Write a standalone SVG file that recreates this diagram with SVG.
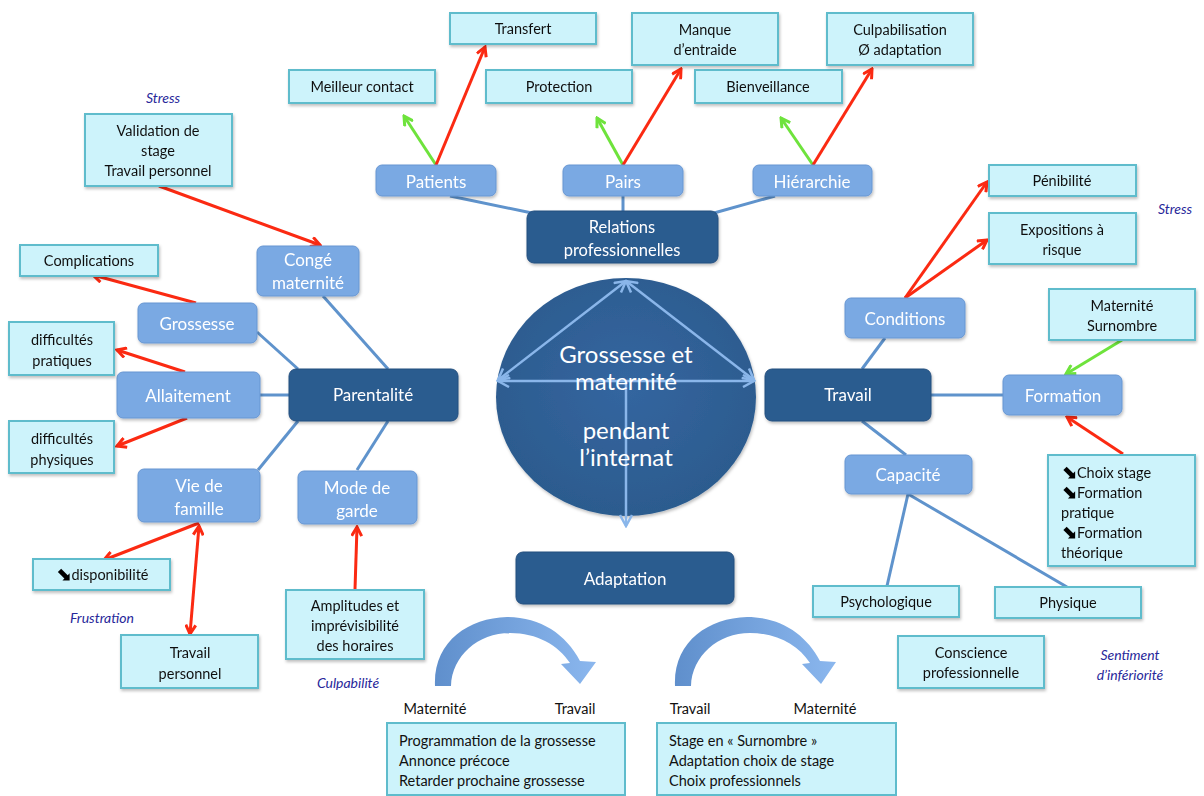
<svg xmlns="http://www.w3.org/2000/svg" width="1204" height="796" viewBox="0 0 1204 796">
  <defs>
    <style>
      .dark { fill: #2c5b8f; stroke: #24507f; stroke-width: 1; }
      .mid { fill: #7aa9e3; stroke: #6796d2; stroke-width: 1; }
      .light { fill: #cdf3fb; stroke: #5fbccc; stroke-width: 2; }
      .tw { font-family: Lato, "Open Sans", sans-serif; fill: #ffffff; text-anchor: middle; }
      .tb { font-family: Lato, "Open Sans", sans-serif; fill: #111111; text-anchor: middle; font-size: 14.5px; }
      .tl { font-family: Lato, "Open Sans", sans-serif; fill: #111111; font-size: 14.5px; }
      .it { font-family: Lato, "Open Sans", sans-serif; fill: #27279a; font-style: italic; font-size: 14px; text-anchor: middle; }
      .ar { font-family: "DejaVu Sans", sans-serif; font-weight: bold; font-size: 19px; fill: #000000; }
      .red { stroke: #fb2a12; stroke-width: 3; fill: none; }
      .green { stroke: #6ee33c; stroke-width: 3; fill: none; }
      .blue { stroke: #5f93cc; stroke-width: 3; fill: none; }
      .inner { stroke: #8ab6ea; stroke-width: 2.5; fill: none; }
    </style>
    <marker id="mRed" viewBox="0 0 12 12" refX="10" refY="6" markerWidth="12" markerHeight="12" markerUnits="userSpaceOnUse" orient="auto-start-reverse">
      <path d="M1 1 L10 6 L1 11" fill="none" stroke="#fb2a12" stroke-width="3" stroke-linejoin="miter"/>
    </marker>
    <marker id="mGreen" viewBox="0 0 12 12" refX="10" refY="6" markerWidth="12" markerHeight="12" markerUnits="userSpaceOnUse" orient="auto-start-reverse">
      <path d="M1 1 L10 6 L1 11" fill="none" stroke="#6ee33c" stroke-width="3"/>
    </marker>
    <marker id="mInner" viewBox="0 0 14 14" refX="12" refY="7" markerWidth="14" markerHeight="14" markerUnits="userSpaceOnUse" orient="auto-start-reverse">
      <path d="M1 1 L12 7 L1 13" fill="none" stroke="#8ab6ea" stroke-width="2.5"/>
    </marker>
    <radialGradient id="gCircle" cx="50%" cy="45%" r="55%">
      <stop offset="0%" stop-color="#3466a0"/>
      <stop offset="100%" stop-color="#2c5b8e"/>
    </radialGradient>
    <linearGradient id="gCurve" x1="0" y1="0" x2="1" y2="0">
      <stop offset="0%" stop-color="#5f8fcc"/>
      <stop offset="100%" stop-color="#8bb7ee"/>
    </linearGradient>
    <filter id="sh" x="-10%" y="-10%" width="125%" height="135%">
      <feDropShadow dx="1" dy="2" stdDeviation="1.5" flood-color="#000" flood-opacity="0.25"/>
    </filter>
  </defs>

  <rect width="1204" height="796" fill="#ffffff"/>

  <!-- connectors -->
  <g id="connectors">
    <!-- hierarchy links -->
    <path class="blue" d="M450 196 L532 213"/>
    <path class="blue" d="M623 196 L623 212"/>
    <path class="blue" d="M775 196 L714 213"/>
    <path class="blue" d="M323 296 L388 369"/>
    <path class="blue" d="M257 332 L298 369"/>
    <path class="blue" d="M260 395 L290 395"/>
    <path class="blue" d="M258 470 L298 421"/>
    <path class="blue" d="M357 470 L388 421"/>
    <path class="blue" d="M885 338 L862 369"/>
    <path class="blue" d="M931 395 L1003 395"/>
    <path class="blue" d="M862 421 L906 455"/>
    <path class="blue" d="M908 494 L887 586"/>
    <path class="blue" d="M908 494 L1067 587"/>

    <!-- relations -->
    <path class="green" d="M436 165 L404 116" marker-end="url(#mGreen)"/>
    <path class="red" d="M436 165 L485 47" marker-end="url(#mRed)"/>
    <path class="green" d="M623 165 L597 118" marker-end="url(#mGreen)"/>
    <path class="red" d="M623 165 L681 69" marker-end="url(#mRed)"/>
    <path class="green" d="M813 165 L781 118" marker-end="url(#mGreen)"/>
    <path class="red" d="M813 165 L872 69" marker-end="url(#mRed)"/>

    <!-- parentalité -->
    <path class="red" d="M159 186 L320 245" marker-end="url(#mRed)"/>
    <path class="red" d="M196 303 L93 275" marker-end="url(#mRed)"/>
    <path class="red" d="M185 372 L117 350" marker-end="url(#mRed)"/>
    <path class="red" d="M187 418 L117 446" marker-end="url(#mRed)"/>
    <path class="red" d="M199 523 L104 560" marker-end="url(#mRed)"/>
    <path class="red" d="M199 526 L190 634" marker-start="url(#mRed)" marker-end="url(#mRed)"/>
    <path class="red" d="M355 589 L357 527" marker-end="url(#mRed)"/>

    <!-- travail -->
    <path class="red" d="M905 298 L987 182" marker-end="url(#mRed)"/>
    <path class="red" d="M905 298 L987 240" marker-end="url(#mRed)"/>
    <path class="green" d="M1122 340 L1066 374" marker-end="url(#mGreen)"/>
    <path class="red" d="M1123 454 L1067 417" marker-end="url(#mRed)"/>
  </g>

  <!-- central theme -->
  <g id="centre">
    <ellipse cx="626" cy="397" rx="130" ry="119" fill="url(#gCircle)" filter="url(#sh)"/>
    <path class="inner" d="M626 281 L498 380" marker-start="url(#mInner)" marker-end="url(#mInner)"/>
    <path class="inner" d="M626 281 L754 380" marker-start="url(#mInner)" marker-end="url(#mInner)"/>
    <path class="inner" d="M498 381 L754 381" marker-start="url(#mInner)" marker-end="url(#mInner)"/>
    <path class="inner" d="M626 381 L626 526" marker-end="url(#mInner)"/>
    <text class="tw" x="626" y="363" font-size="24">Grossesse et</text>
    <text class="tw" x="626" y="390" font-size="24">maternité</text>
    <text class="tw" x="626" y="439" font-size="24">pendant</text>
    <text class="tw" x="626" y="466" font-size="24">l’internat</text>
  </g>

  <!-- main branches -->
  <g id="relations" filter="url(#sh)">
    <rect class="dark" x="527" y="211" width="191" height="52" rx="7"/>
    <text class="tw" x="622" y="233" font-size="16.5">Relations</text>
    <text class="tw" x="622" y="256" font-size="16.5">professionnelles</text>
  </g>
  <g id="parentalite" filter="url(#sh)">
    <rect class="dark" x="289" y="369" width="169" height="52" rx="7"/>
    <text class="tw" x="373" y="401" font-size="17">Parentalité</text>
  </g>
  <g id="travail" filter="url(#sh)">
    <rect class="dark" x="765" y="369" width="166" height="52" rx="7"/>
    <text class="tw" x="848" y="401" font-size="17">Travail</text>
  </g>
  <g id="adaptation" filter="url(#sh)">
    <rect class="dark" x="516" y="552" width="218" height="52" rx="7"/>
    <text class="tw" x="625" y="585" font-size="17">Adaptation</text>
  </g>

  <!-- sub-branches -->
  <g id="patients" filter="url(#sh)">
    <rect class="mid" x="376" y="165" width="120" height="31" rx="6"/>
    <text class="tw" x="436" y="188" font-size="17">Patients</text>
  </g>
  <g id="pairs" filter="url(#sh)">
    <rect class="mid" x="563" y="165" width="120" height="31" rx="6"/>
    <text class="tw" x="623" y="188" font-size="17">Pairs</text>
  </g>
  <g id="hierarchie" filter="url(#sh)">
    <rect class="mid" x="753" y="165" width="119" height="31" rx="6"/>
    <text class="tw" x="812" y="188" font-size="17">Hiérarchie</text>
  </g>
  <g id="conge" filter="url(#sh)">
    <rect class="mid" x="257" y="246" width="102" height="50" rx="6"/>
    <text class="tw" x="308" y="266" font-size="17">Congé</text>
    <text class="tw" x="308" y="289" font-size="17">maternité</text>
  </g>
  <g id="grossesse" filter="url(#sh)">
    <rect class="mid" x="138" y="303" width="119" height="40" rx="6"/>
    <text class="tw" x="197" y="330" font-size="17">Grossesse</text>
  </g>
  <g id="allaitement" filter="url(#sh)">
    <rect class="mid" x="117" y="372" width="143" height="46" rx="6"/>
    <text class="tw" x="188" y="402" font-size="17">Allaitement</text>
  </g>
  <g id="vie-famille" filter="url(#sh)">
    <rect class="mid" x="138" y="469" width="122" height="53" rx="6"/>
    <text class="tw" x="199" y="492" font-size="17">Vie de</text>
    <text class="tw" x="199" y="515" font-size="17">famille</text>
  </g>
  <g id="mode-garde" filter="url(#sh)">
    <rect class="mid" x="298" y="471" width="119" height="53" rx="6"/>
    <text class="tw" x="357" y="494" font-size="17">Mode de</text>
    <text class="tw" x="357" y="517" font-size="17">garde</text>
  </g>
  <g id="conditions" filter="url(#sh)">
    <rect class="mid" x="845" y="298" width="120" height="40" rx="6"/>
    <text class="tw" x="905" y="325" font-size="17">Conditions</text>
  </g>
  <g id="formation" filter="url(#sh)">
    <rect class="mid" x="1003" y="375" width="119" height="40" rx="6"/>
    <text class="tw" x="1063" y="402" font-size="17">Formation</text>
  </g>
  <g id="capacite" filter="url(#sh)">
    <rect class="mid" x="845" y="455" width="127" height="39" rx="6"/>
    <text class="tw" x="908" y="481" font-size="17">Capacité</text>
  </g>

  <!-- details -->
  <g id="transfert" filter="url(#sh)">
    <rect class="light" x="450" y="13" width="146" height="31"/>
    <text class="tb" x="523" y="34">Transfert</text>
  </g>
  <g id="meilleur-contact" filter="url(#sh)">
    <rect class="light" x="289" y="70" width="146" height="33"/>
    <text class="tb" x="362" y="92">Meilleur contact</text>
  </g>
  <g id="protection" filter="url(#sh)">
    <rect class="light" x="486" y="70" width="146" height="33"/>
    <text class="tb" x="559" y="92">Protection</text>
  </g>
  <g id="manque-entraide" filter="url(#sh)">
    <rect class="light" x="632" y="13" width="146" height="52"/>
    <text class="tb" x="705" y="35">Manque</text>
    <text class="tb" x="705" y="55">d’entraide</text>
  </g>
  <g id="bienveillance" filter="url(#sh)">
    <rect class="light" x="695" y="70" width="147" height="33"/>
    <text class="tb" x="768" y="92">Bienveillance</text>
  </g>
  <g id="culpabilisation" filter="url(#sh)">
    <rect class="light" x="827" y="13" width="146" height="52"/>
    <text class="tb" x="900" y="35">Culpabilisation</text>
    <text class="tb" x="900" y="55">Ø adaptation</text>
  </g>
  <g id="validation" filter="url(#sh)">
    <rect class="light" x="85" y="114" width="147" height="72"/>
    <text class="tb" x="158" y="136">Validation de</text>
    <text class="tb" x="158" y="156">stage</text>
    <text class="tb" x="158" y="176">Travail personnel</text>
  </g>
  <g id="complications" filter="url(#sh)">
    <rect class="light" x="20" y="245" width="138" height="31"/>
    <text class="tb" x="89" y="266">Complications</text>
  </g>
  <g id="diff-pratiques" filter="url(#sh)">
    <rect class="light" x="9" y="322" width="105" height="53"/>
    <text class="tb" x="62" y="345">difficultés</text>
    <text class="tb" x="62" y="366">pratiques</text>
  </g>
  <g id="diff-physiques" filter="url(#sh)">
    <rect class="light" x="9" y="421" width="105" height="52"/>
    <text class="tb" x="62" y="444">difficultés</text>
    <text class="tb" x="62" y="465">physiques</text>
  </g>
  <g id="disponibilite" filter="url(#sh)">
    <rect class="light" x="33" y="559" width="137" height="31"/>
    <text class="tb" x="102" y="580"><tspan class="ar">⬊</tspan>disponibilité</text>
  </g>
  <g id="travail-perso" filter="url(#sh)">
    <rect class="light" x="121" y="635" width="137" height="53"/>
    <text class="tb" x="190" y="658">Travail</text>
    <text class="tb" x="190" y="679">personnel</text>
  </g>
  <g id="amplitudes" filter="url(#sh)">
    <rect class="light" x="286" y="590" width="138" height="69"/>
    <text class="tb" x="355" y="611">Amplitudes et</text>
    <text class="tb" x="355" y="631">imprévisibilité</text>
    <text class="tb" x="355" y="651">des horaires</text>
  </g>
  <g id="penibilite" filter="url(#sh)">
    <rect class="light" x="989" y="165" width="147" height="31"/>
    <text class="tb" x="1062" y="186">Pénibilité</text>
  </g>
  <g id="expositions" filter="url(#sh)">
    <rect class="light" x="989" y="213" width="147" height="51"/>
    <text class="tb" x="1062" y="235">Expositions à</text>
    <text class="tb" x="1062" y="255">risque</text>
  </g>
  <g id="maternite-surnombre" filter="url(#sh)">
    <rect class="light" x="1049" y="289" width="146" height="51"/>
    <text class="tb" x="1122" y="311">Maternité</text>
    <text class="tb" x="1122" y="331">Surnombre</text>
  </g>
  <g id="choix" filter="url(#sh)">
    <rect class="light" x="1048" y="455" width="147" height="111"/>
    <text class="tl" x="1061" y="478"><tspan class="ar">⬊</tspan>Choix stage</text>
    <text class="tl" x="1061" y="498"><tspan class="ar">⬊</tspan>Formation</text>
    <text class="tl" x="1061" y="518">pratique</text>
    <text class="tl" x="1061" y="538"><tspan class="ar">⬊</tspan>Formation</text>
    <text class="tl" x="1061" y="558">théorique</text>
  </g>
  <g id="psychologique" filter="url(#sh)">
    <rect class="light" x="813" y="586" width="146" height="31"/>
    <text class="tb" x="886" y="607">Psychologique</text>
  </g>
  <g id="physique" filter="url(#sh)">
    <rect class="light" x="995" y="587" width="146" height="31"/>
    <text class="tb" x="1068" y="608">Physique</text>
  </g>
  <g id="conscience" filter="url(#sh)">
    <rect class="light" x="898" y="636" width="146" height="52"/>
    <text class="tb" x="971" y="658">Conscience</text>
    <text class="tb" x="971" y="678">professionnelle</text>
  </g>

  <!-- adaptation directions -->
  <g id="mat-vers-travail">
    <path d="M435 686 C433 642 468 618 507 617 C540 617 566 634 580 661 L596 662 L580 684 L561 664 L570 663 C558 645 537 633 510 633 C478 633 452 656 451 686 Z" fill="url(#gCurve)"/>
    <text class="tb" x="435" y="714">Maternité</text>
    <text class="tb" x="575" y="714">Travail</text>
    <rect class="light" x="387" y="723" width="238" height="72"/>
    <text class="tl" x="399" y="746">Programmation de la grossesse</text>
    <text class="tl" x="399" y="766">Annonce précoce</text>
    <text class="tl" x="399" y="786">Retarder prochaine grossesse</text>
  </g>
  <g id="travail-vers-mat">
    <path d="M675 686 C673 642 708 618 747 617 C780 617 806 634 820 661 L836 662 L821 684 L802 664 L810 663 C798 645 777 633 750 633 C718 633 692 656 691 686 Z" fill="url(#gCurve)"/>
    <text class="tb" x="690" y="714">Travail</text>
    <text class="tb" x="825" y="714">Maternité</text>
    <rect class="light" x="657" y="723" width="239" height="72"/>
    <text class="tl" x="669" y="746">Stage en « Surnombre »</text>
    <text class="tl" x="669" y="766">Adaptation choix de stage</text>
    <text class="tl" x="669" y="786">Choix professionnels</text>
  </g>

  <!-- feelings -->
  <g id="feelings">
    <text class="it" x="163" y="103">Stress</text>
    <text class="it" x="1175" y="214">Stress</text>
    <text class="it" x="102" y="623">Frustration</text>
    <text class="it" x="348" y="688">Culpabilité</text>
    <text class="it" x="1130" y="660">Sentiment</text>
    <text class="it" x="1130" y="680">d’infériorité</text>
  </g>
</svg>
